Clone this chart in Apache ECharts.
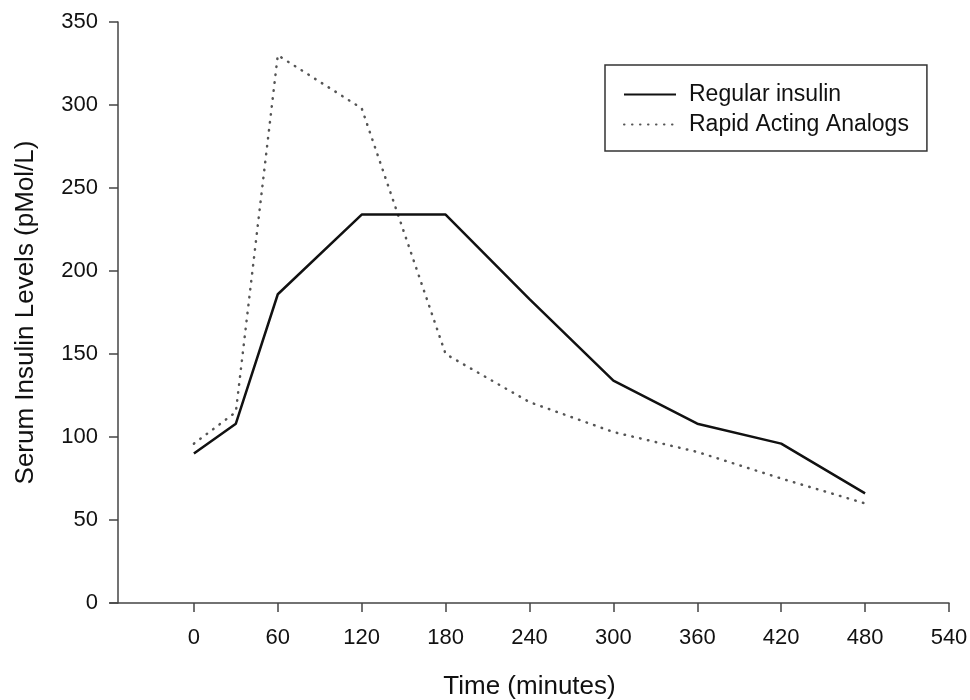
<!DOCTYPE html>
<html>
<head>
<meta charset="utf-8">
<script src="https://cdn.jsdelivr.net/npm/echarts@6/dist/echarts.min.js"></script>
<style>
  html, body { margin: 0; padding: 0; background: #fff; }
  #chart { width: 970px; height: 700px; }
</style>
</head>
<body>
<div id="chart"></div>
<script>
// time points (minutes)
const times = [0, 30, 60, 120, 180, 240, 300, 360, 420, 480]
const regularInsulin = [90, 108, 186, 234, 234, 183, 134, 108, 96, 66]
const rapidAnalogs = [96, 115, 330, 298, 150, 121, 103, 91, 75, 60]
const xTicks = [0, 60, 120, 180, 240, 300, 360, 420, 480, 540]

const axisColor = '#444'
const textColor = '#111'
const font = 'Liberation Sans, Arial, sans-serif'

const chart = echarts.init(document.getElementById('chart'))

const option = {
  backgroundColor: '#fff',
  animation: false,
  textStyle: { fontFamily: font },
  grid: { left: 110, right: 21, top: 22, bottom: 97, outerBoundsMode: 'none' },
  legend: {
    orient: 'vertical',
    left: 605,
    top: 65,
    padding: [18, 18, 15, 18],
    borderColor: '#333',
    borderWidth: 1.5,
    itemWidth: 52,
    itemHeight: 14,
    itemGap: 7,
    itemStyle: { opacity: 0 },
    textStyle: { fontSize: 23, color: textColor, fontFamily: font, padding: [0, 0, 0, 8] },
    data: ['Regular insulin', 'Rapid Acting Analogs']
  },
  xAxis: {
    type: 'value',
    min: -60,
    max: 540,
    interval: 60,
    name: 'Time (minutes)',
    nameLocation: 'middle',
    nameGap: 71,
    nameTextStyle: { fontSize: 26, color: textColor, fontFamily: font },
    splitLine: { show: false },
    axisLine: { lineStyle: { color: axisColor, width: 1.5 } },
    axisTick: { customValues: xTicks, length: 9, lineStyle: { color: axisColor, width: 1.5 } },
    axisLabel: { customValues: xTicks, margin: 24, fontSize: 22, color: textColor, fontFamily: font }
  },
  yAxis: {
    type: 'value',
    min: 0,
    max: 350,
    interval: 50,
    offset: -8,
    name: 'Serum Insulin Levels (pMol/L)',
    nameLocation: 'middle',
    nameGap: 79,
    nameTextStyle: { fontSize: 26, color: textColor, fontFamily: font },
    splitLine: { show: false },
    axisLine: { show: true, onZero: false, lineStyle: { color: axisColor, width: 1.5 } },
    axisTick: { show: true, length: 9, lineStyle: { color: axisColor, width: 1.5 } },
    axisLabel: { margin: 20, fontSize: 22, color: textColor, fontFamily: font }
  },
  series: [
    {
      name: 'Regular insulin',
      type: 'line',
      symbol: 'none',
      data: times.map((t, i) => [t, regularInsulin[i]]),
      lineStyle: { color: '#111', width: 2.5 },
      itemStyle: { color: '#111' },
      z: 3
    },
    {
      name: 'Rapid Acting Analogs',
      type: 'line',
      symbol: 'none',
      data: times.map((t, i) => [t, rapidAnalogs[i]]),
      lineStyle: { color: '#555', width: 2.5, type: [0.5, 7.5], cap: 'round' },
      itemStyle: { color: '#555' },
      z: 2
    }
  ]
}

chart.setOption(option)
</script>
</body>
</html>
